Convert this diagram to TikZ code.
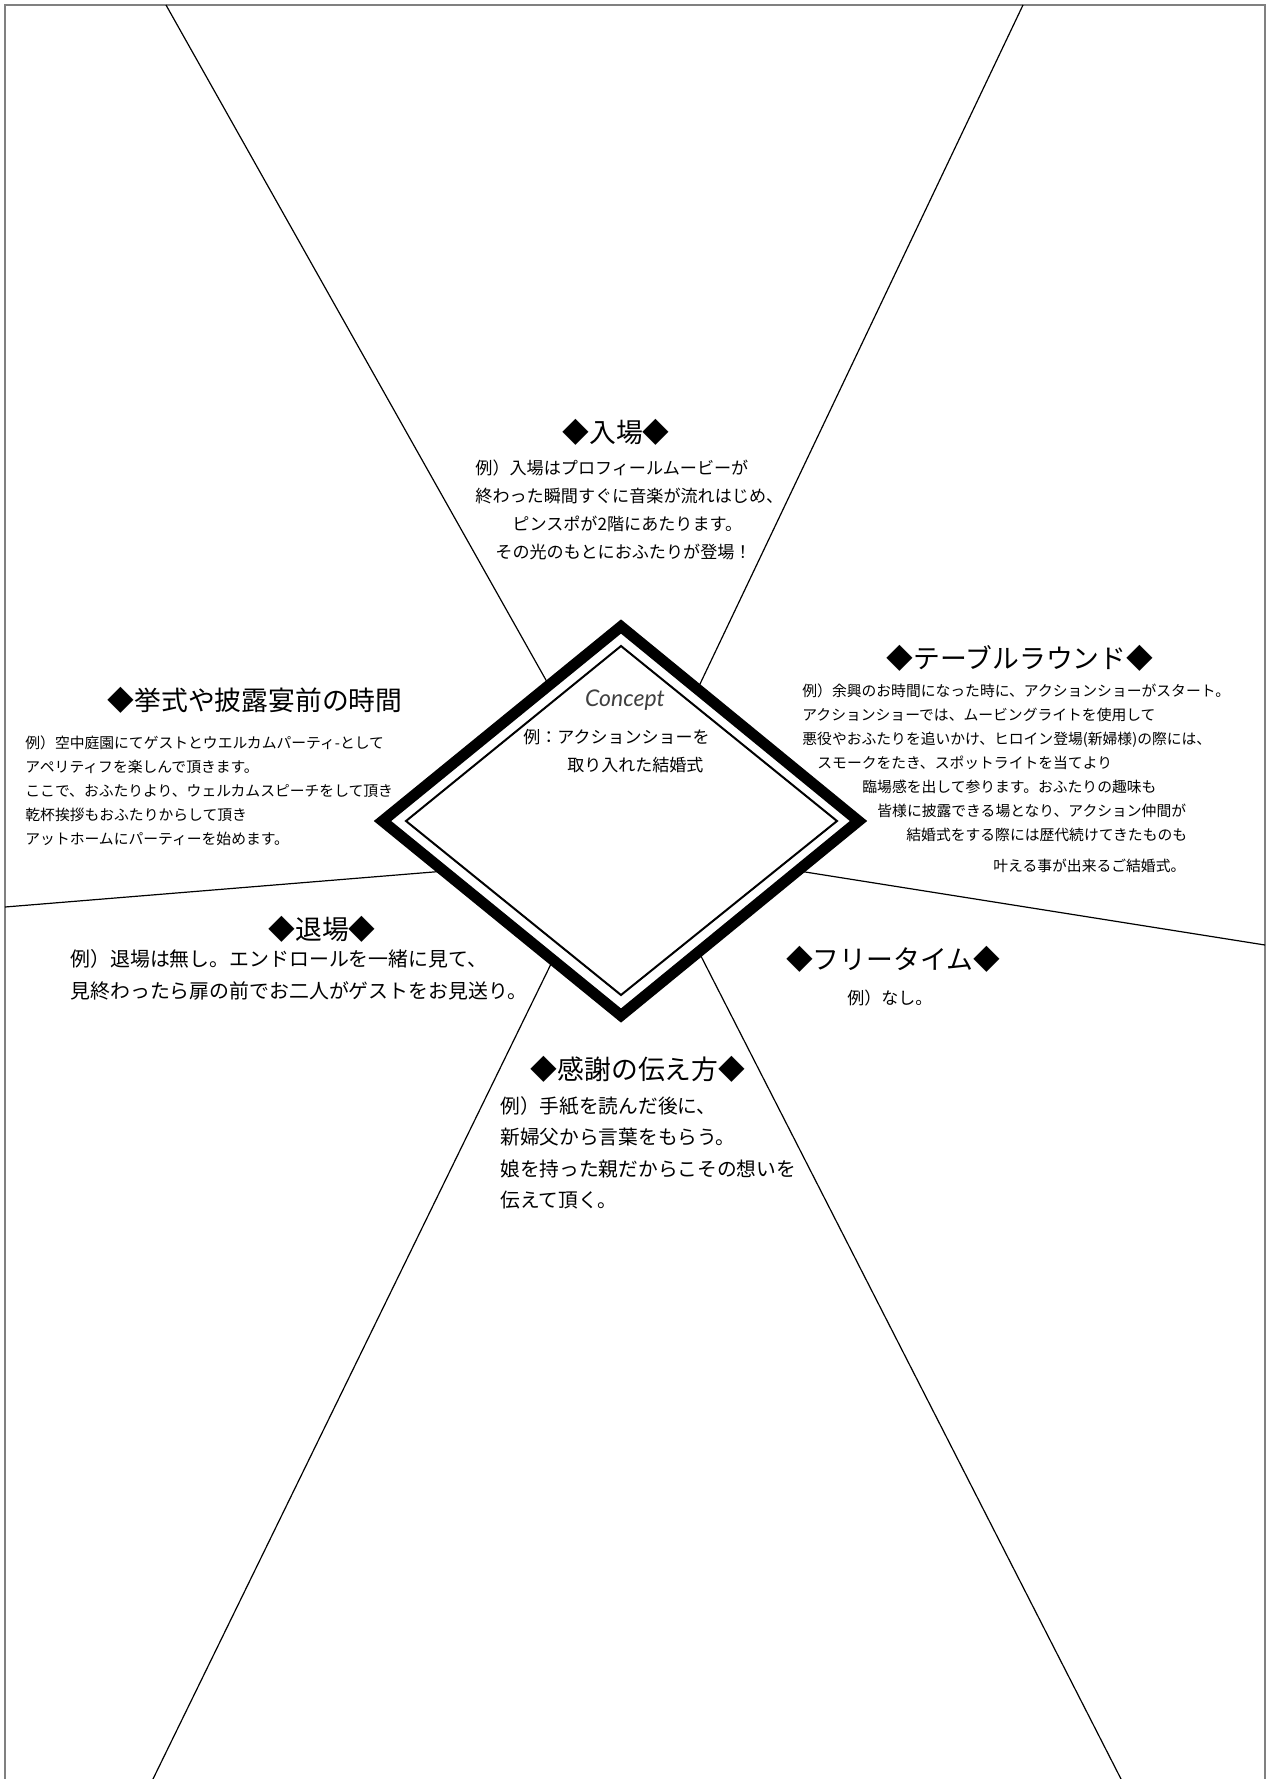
\documentclass[tikz,border=0pt]{standalone}
\usepackage{fontspec}
\newfontfamily\jpfont{Noto Sans CJK JP}
\newfontfamily\conceptfont{Lato}
\usepackage{xcolor}

\tikzset{
  heading/.style={font=\jpfont\fontsize{13.4}{16}\selectfont, inner sep=0pt},
  body/.style 2 args={font=\jpfont\fontsize{#1}{#2}\selectfont, inner sep=0pt, align=left, anchor=west},
  divider/.style={black, line width=0.6pt},
}

\begin{document}
\begin{tikzpicture}[x=0.5pt, y=-0.5pt]
			\useasboundingbox (0,0) rectangle (1268,1779);
			\draw[gray, line width=1.2pt] (5,1779) -- (5,5) -- (1265,5) -- (1265,1779);

			% dividing lines
			\draw[divider] (166,5) -- (560,705);
			\draw[divider] (1023,5) -- (690,705);
			\draw[divider] (5,907) -- (470,869);
			\draw[divider] (1265,945) -- (780,868);
			\draw[divider] (153,1779) -- (571,923);
			\draw[divider] (1121,1779) -- (680,915);

			% concept diamond
			\draw[line width=5.5pt, fill=white] (621,626.5) -- (858.5,821) -- (621,1015.5) -- (382.5,821) -- cycle;
			\draw[line width=1pt] (621,646) -- (837,821) -- (621,995) -- (406,821) -- cycle;
			\node[font=\conceptfont\itshape\fontsize{11.5}{13}\selectfont, text=black!75, inner sep=0pt] (concept) at (625,700) {Concept};
			\node[body={8.5}{14}] (conceptB) at (523,751) {例：アクションショーを\\ \hspace*{22pt}取り入れた結婚式};

			% entry
			\node[heading] (entryT) at (616,432) {◆入場◆};
			\node[body={8.55}{14.1}] (entryB) at (475,510) {例）入場はプロフィールムービーが\\ 終わった瞬間すぐに音楽が流れはじめ、\\ \hspace*{18.5pt}ピンスポが2階にあたります。\\ \hspace*{10pt}その光のもとにおふたりが登場！};

			% before ceremony
			\node[heading] (beforeT) at (255,700) {◆挙式や披露宴前の時間};
			\node[body={7.4}{12}] (beforeB) at (25,791) {例）空中庭園にてゲストとウエルカムパーティ-として\\ アペリティフを楽しんで頂きます。\\ ここで、おふたりより、ウェルカムスピーチをして頂き\\ 乾杯挨拶もおふたりからして頂き\\ アットホームにパーティーを始めます。};

			% table round
			\node[heading] (tableT) at (1020,658) {◆テーブルラウンド◆};
			\node[body={7.4}{12}] (tableB) at (802,778) {例）余興のお時間になった時に、アクションショーがスタート。\\ アクションショーでは、ムービングライトを使用して\\ 悪役やおふたりを追いかけ、ヒロイン登場(新婦様)の際には、\\ \hspace*{7.5pt}スモークをたき、スポットライトを当てより\\ \hspace*{30pt}臨場感を出して参ります。おふたりの趣味も\\ \hspace*{37.5pt}皆様に披露できる場となり、アクション仲間が\\ \hspace*{52pt}結婚式をする際には歴代続けてきたものも\\[3.5pt] \hspace*{95.5pt}叶える事が出来るご結婚式。};

			% exit
			\node[heading] (exitT) at (322,929) {◆退場◆};
			\node[body={9.95}{16}] (exitB) at (70,975) {例）退場は無し。エンドロールを一緒に見て、\\ 見終わったら扉の前でお二人がゲストをお見送り。};

			% free time
			\node[heading] (freeT) at (893,959) {◆フリータイム◆};
			\node[body={8.5}{14}] (freeB) at (847,998) {例）なし。};

			% thanks
			\node[heading] (thanksT) at (638,1069) {◆感謝の伝え方◆};
			\node[body={9.85}{15.7}] (thanksB) at (500,1153) {例）手紙を読んだ後に、\\ 新婦父から言葉をもらう。\\ 娘を持った親だからこその想いを\\ 伝えて頂く。};
		\end{tikzpicture}
\end{document}
